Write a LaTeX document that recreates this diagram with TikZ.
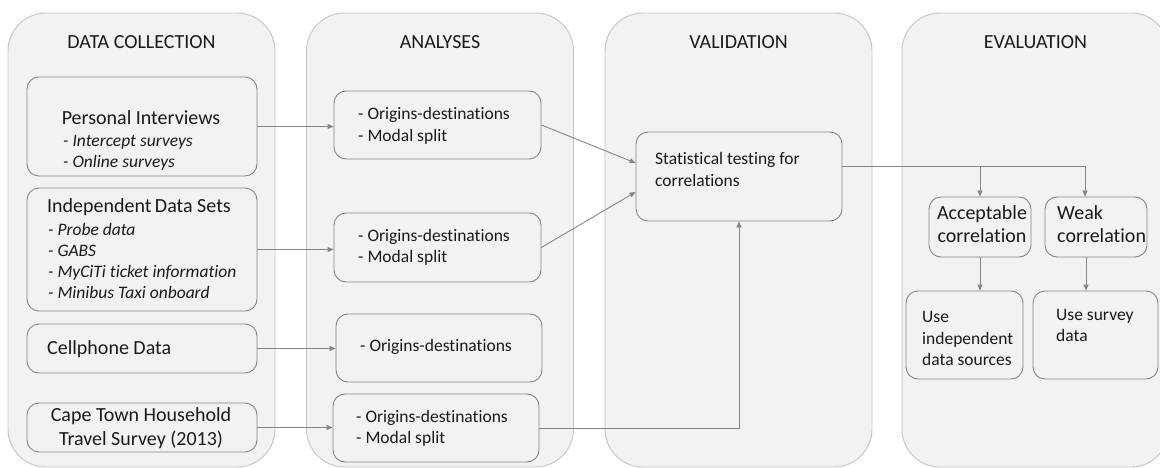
\documentclass[tikz,border=0pt]{standalone}
\usepackage{fontspec}
\setmainfont{Carlito}[Ligatures={NoCommon}]
\usetikzlibrary{arrows.meta,calc}
\definecolor{lanefill}{HTML}{F2F2F2}
\definecolor{laneline}{HTML}{C4C4C4}
\definecolor{boxline}{HTML}{868686}
\definecolor{connc}{HTML}{858585}
\definecolor{txt}{HTML}{1A1A1A}
\begin{document}
\begin{tikzpicture}[x=1pt,y=-1pt,
 lane/.style={draw=laneline, fill=lanefill, rounded corners=38pt, line width=0.9pt, inner sep=0pt, minimum width=267pt, minimum height=454pt},
 box/.style={draw=boxline, fill=lanefill, rounded corners=12pt, line width=0.9pt, inner sep=0pt},
 hdr/.style={font=\fontsize{20}{24}\selectfont, text=txt, inner sep=0pt},
 big/.style={font=\fontsize{20}{24}\selectfont, text=txt, inner sep=0pt, align=left, anchor=west},
 bigc/.style={font=\fontsize{20}{24}\selectfont, text=txt, inner sep=0pt, align=center},
 sml/.style={font=\fontsize{17.5}{21.5}\selectfont, text=txt, inner sep=0pt, align=left, anchor=west},
 itl/.style={font=\fontsize{17.5}{21}\selectfont\itshape, text=txt, inner sep=0pt, align=left, anchor=west},
 conn/.style={draw=connc, line width=0.9pt, -{Triangle[length=6pt,width=5pt]}},
]
\useasboundingbox (0,0) rectangle (1160,468);
\clip (0,0) rectangle (1160,468);

% lanes
\node[lane] (lane1) at (141.5,240) {};
\node[lane] (lane2) at (440,240) {};
\node[lane] (lane3) at (738.5,240) {};
\node[lane] (lane4) at (1035.5,240) {};
\node[hdr] (h1) at (141.5,42) {DATA COLLECTION};
\node[hdr] (h2) at (440,42) {ANALYSES};
\node[hdr] (h3) at (738.5,42) {VALIDATION};
\node[hdr] (h4) at (1035.5,42) {EVALUATION};

% data collection boxes
\node[box, minimum width=230pt, minimum height=99pt] (pi) at (142,126.5) {};
\node[box, minimum width=230pt, minimum height=123pt] (ids) at (142,249.5) {};
\node[box, minimum width=230pt, minimum height=49pt] (cell) at (142,348.5) {};
\node[box, minimum width=230pt, minimum height=49pt] (ct) at (142,427.5) {};
\node[bigc] (pit) at (141,118) {Personal Interviews};
\node[itl] (pii) at (63,152.5) {- Intercept surveys\\- Online surveys};
\node[big] (idst) at (47,207) {Independent\,Data Sets};
\node[itl, font=\fontsize{17.5}{20.7}\selectfont\itshape] (idsi) at (48,261) {- Probe data\\- GABS\\- MyCiTi ticket information\\- Minibus Taxi onboard};
\node[big] (cellt) at (47,349) {Cellphone Data};
\node[bigc] (ctt) at (141,428) {Cape Town Household\\Travel Survey (2013)};

% analyses boxes
\node[box, minimum width=207pt, minimum height=68pt] (a1) at (437.5,125) {};
\node[box, minimum width=207pt, minimum height=69pt] (a2) at (437.5,247.5) {};
\node[box, minimum width=206pt, minimum height=68pt] (a3) at (439,348) {};
\node[box, minimum width=206pt, minimum height=68pt] (a4) at (436,428) {};
\node[sml] (a1t) at (358,126) {- Origins-destinations\\- Modal split};
\node[sml] (a2t) at (358,247.5) {- Origins-destinations\\- Modal split};
\node[sml] (a3t) at (360,347) {- Origins-destinations};
\node[sml] (a4t) at (356,428.5) {- Origins-destinations\\- Modal split};

% validation
\node[box, minimum width=206pt, minimum height=89pt] (stat) at (739,176.5) {};
\node[sml] (statt) at (655,169.5) {Statistical testing for\\correlations};

% evaluation
\node[box, minimum width=102pt, minimum height=60pt] (acc) at (980,227) {};
\node[box, minimum width=102pt, minimum height=60pt] (weak) at (1096,227) {};
\node[box, minimum width=117pt, minimum height=88pt] (useind) at (964.5,335) {};
\node[box, minimum width=125pt, minimum height=88pt] (usesur) at (1095.5,335) {};
\node[bigc, font=\fontsize{20}{23}\selectfont] (acct) at (982,224.5) {Acceptable\\correlation};
\node[big, font=\fontsize{20}{23}\selectfont] (weakt) at (1057,224.5) {Weak\\correlation};
\node[sml] (useindt) at (922,338.5) {Use\\independent\\data sources};
\node[sml] (usesurt) at (1056,325.5) {Use survey\\data};

% connectors
\draw[conn] (pi.east) -- (pi.east -| a1.west);
\draw[conn] (ids.east) -- (ids.east -| a2.west);
\draw[conn] (cell.east) -- (cell.east -| a3.west);
\draw[conn] (ct.east) -- (ct.east -| a4.west);
\draw[conn] (a1.east) -- ([yshift=13.5pt]stat.west);
\draw[conn] (a2.east) -- ([yshift=-15.5pt]stat.west);
\draw[conn] (a4.east) -| (stat.south);
\coordinate (so) at ([yshift=10pt]stat.east);
\coordinate (wk) at ([xshift=-11pt]weak.north);
\draw[conn] (so) -| (wk);
\draw[conn] (so -| acc.north) -- (acc.north);
\draw[conn] (acc.south) -- (acc.south |- useind.north);
\coordinate (ws) at ([xshift=-10pt]weak.south);
\draw[conn] (ws) -- (ws |- usesur.north);
\end{tikzpicture}
\end{document}
